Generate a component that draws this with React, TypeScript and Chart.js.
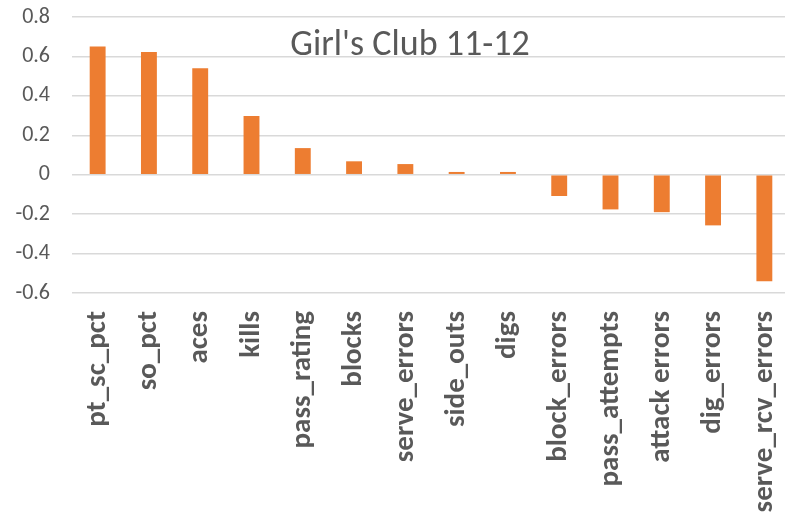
import React, { useEffect, useRef } from "react";
import { Chart, registerables } from "chart.js";

Chart.register(...registerables);

const chartTitle = "Girl's Club 11-12";

const categories = [
  "pt_sc_pct",
  "so_pct",
  "aces",
  "kills",
  "pass_rating",
  "blocks",
  "serve_errors",
  "side_outs",
  "digs",
  "block_errors",
  "pass_attempts",
  "attack errors",
  "dig_errors",
  "serve_rcv_errors",
];

const correlations = [
  0.65, 0.623, 0.54, 0.298, 0.135, 0.068, 0.054, 0.014, 0.014, -0.108, -0.176,
  -0.19, -0.257, -0.54,
];

const yMin = -0.6;
const yMax = 0.8;
const yStep = 0.2;

const FONT = "Calibri, Lato, sans-serif";
const TEXT = "#595959";
const BAR = "#ED7D31";
const GRID = "#d9d9d9";

// The plot area runs a few pixels past the right edge of the canvas
const PLOT_OVERHANG = 5;

const overhangPlugin = {
  id: "plotOverhang",
  afterLayout(chart: any) {
    const x = chart.scales.x;
    x.right += PLOT_OVERHANG;
    x.width += PLOT_OVERHANG;
    chart.chartArea.right += PLOT_OVERHANG;
    chart.chartArea.width += PLOT_OVERHANG;
    x.configure();
    const y = chart.scales.y;
    y.configure();
  },
};

// Title sits inside the plot area, over the upper gridlines
const titlePlugin = {
  id: "insetTitle",
  afterDraw(chart: Chart) {
    const ctx = chart.ctx;
    ctx.save();
    ctx.font = `36px ${FONT}`;
    ctx.fillStyle = TEXT;
    ctx.textAlign = "center";
    ctx.textBaseline = "alphabetic";
    ctx.fillText(chartTitle, 410, 55);
    ctx.restore();
  },
};

export default function App() {
  const canvasRef = useRef<HTMLCanvasElement | null>(null);

  useEffect(() => {
    document.body.style.margin = "0";
    const canvas = canvasRef.current;
    if (!canvas) return;
    const chart = new Chart(canvas, {
      type: "bar",
      data: {
        labels: categories,
        datasets: [
          {
            data: correlations,
            backgroundColor: BAR,
            borderWidth: 0,
            barPercentage: 0.31,
            categoryPercentage: 1,
          },
        ],
      },
      options: {
        animation: false,
        responsive: true,
        maintainAspectRatio: false,
        layout: { padding: { top: 17, right: 0, left: 0, bottom: 0 } },
        plugins: {
          legend: { display: false },
          tooltip: { enabled: false },
          title: { display: false },
        },
        scales: {
          x: {
            grid: { display: false, drawTicks: false },
            border: { display: false },
            ticks: {
              color: TEXT,
              font: { family: FONT, size: 29, weight: "bold" },
              minRotation: 90,
              maxRotation: 90,
              autoSkip: false,
              padding: 18,
            },
            afterFit(scale: any) {
              scale.height = 226;
              scale.paddingLeft = 0;
              scale.paddingRight = 0;
            },
          },
          y: {
            min: yMin,
            max: yMax,
            grid: {
              color: GRID,
              lineWidth: 1.5,
              drawTicks: false,
            },
            border: { display: false },
            ticks: {
              stepSize: yStep,
              color: TEXT,
              font: { family: FONT, size: 22 },
              padding: 22,
              callback: (v: any) => {
                const n = Math.round(Number(v) * 10) / 10;
                return n === 0 ? "0" : n.toFixed(1);
              },
            },
            afterFit(scale: any) {
              scale.width = 72;
              scale.paddingTop = 0;
              scale.paddingBottom = 0;
            },
          },
        },
      },
      plugins: [overhangPlugin, titlePlugin],
    });
    return () => chart.destroy();
  }, []);

  return (
    <div style={{ width: 785, height: 519, position: "relative", background: "#fff" }}>
      <canvas ref={canvasRef} />
    </div>
  );
}
